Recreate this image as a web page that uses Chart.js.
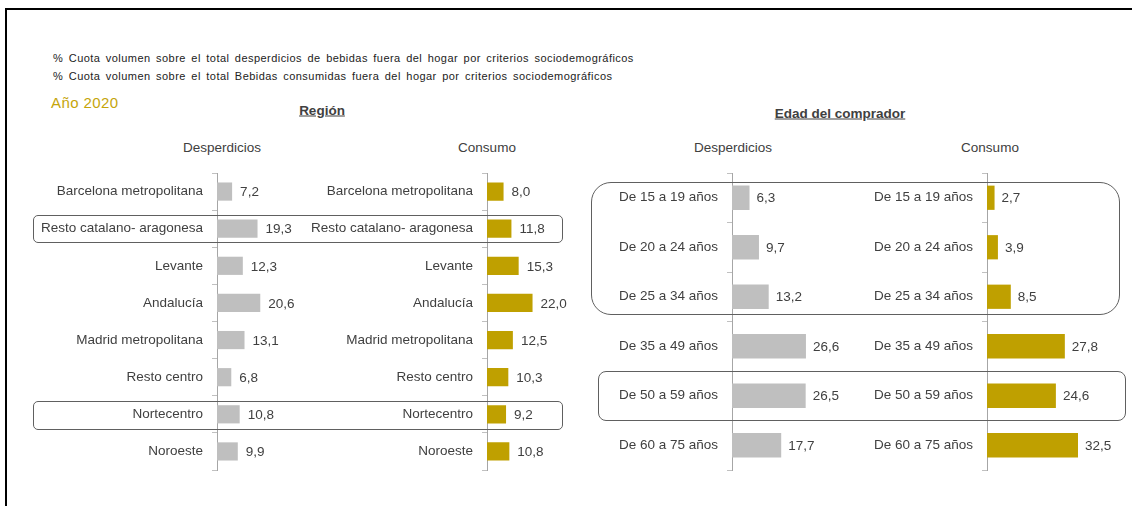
<!DOCTYPE html>
<html>
<head>
<meta charset="utf-8">
<script src="https://cdn.jsdelivr.net/npm/chart.js@4.4.1/dist/chart.umd.min.js"></script>
<style>
  html, body { margin: 0; padding: 0; background: #fff; }
  body { width: 1132px; height: 506px; position: relative; overflow: hidden; font-family: 'Liberation Sans', Arial, sans-serif; color: #404040; }
  .frame { position: absolute; left: 5px; top: 7.5px; width: 1140px; height: 520px; border-top: 2px solid #000; border-left: 2px solid #000; }
  .t { position: absolute; white-space: nowrap; }
  .c { transform: translate(-50%, -50%); }
  .hdr { font-size: 11px; letter-spacing: 0.45px; word-spacing: 2px; color: #222; transform: translateY(-50%); }
  .year { font-size: 15px; color: #C5A50A; transform: translateY(-50%); letter-spacing: 0.4px; }
  .sec { font-size: 13.5px; font-weight: bold; text-decoration: underline; color: #404040; }
  .sub { font-size: 13.5px; color: #404040; }
  .box { position: absolute; border: 1.5px solid #606060; box-sizing: border-box; }
  canvas { position: absolute; }
</style>
</head>
<body>
<div class="frame"></div>
<div class="t hdr" style="left:53px; top:58px;">% Cuota volumen sobre el total desperdicios de bebidas fuera del hogar por criterios sociodemográficos</div>
<div class="t hdr" style="left:53px; top:76px;">% Cuota volumen sobre el total Bebidas consumidas fuera del hogar por criterios sociodemográficos</div>
<div class="t year" style="left:51px; top:102px;">Año 2020</div>
<div class="t sec c" style="left:322px; top:110px;">Región</div>
<div class="t sec c" style="left:840px; top:113px;">Edad del comprador</div>
<div class="t sub c" style="left:222px; top:147px;">Desperdicios</div>
<div class="t sub c" style="left:487px; top:147px;">Consumo</div>
<div class="t sub c" style="left:733px; top:147px;">Desperdicios</div>
<div class="t sub c" style="left:990px; top:147px;">Consumo</div>

<canvas id="cA"></canvas>
<canvas id="cB"></canvas>
<canvas id="cC"></canvas>
<canvas id="cD"></canvas>

<div class="box" style="left:33px; top:215px; width:530px; height:28px; border-radius:5px;"></div>
<div class="box" style="left:33px; top:401px; width:530px; height:29px; border-radius:5px;"></div>
<div class="box" style="left:591px; top:182px; width:529px; height:133px; border-radius:20px;"></div>
<div class="box" style="left:598px; top:371px; width:528px; height:50px; border-radius:8px;"></div>

<script>
// ---- Data ----
const regionCategories = ['Barcelona metropolitana', 'Resto catalano- aragonesa', 'Levante', 'Andalucía', 'Madrid metropolitana', 'Resto centro', 'Nortecentro', 'Noroeste'];
const regionDesperdicios = [7.2, 19.3, 12.3, 20.6, 13.1, 6.8, 10.8, 9.9];
const regionConsumo = [8.0, 11.8, 15.3, 22.0, 12.5, 10.3, 9.2, 10.8];

const edadCategories = ['De 15 a 19 años', 'De 20 a 24 años', 'De 25 a 34 años', 'De 35 a 49 años', 'De 50 a 59 años', 'De 60 a 75 años'];
const edadDesperdicios = [6.3, 9.7, 13.2, 26.6, 26.5, 17.7];
const edadConsumo = [2.7, 3.9, 8.5, 27.8, 24.6, 32.5];

// ---- Styles ----
const GRAY = '#BFBFBF';
const GOLD = '#BFA000';
const FONT = "'Liberation Sans', Arial, sans-serif";
const TEXT = '#404040';

Chart.defaults.font.family = FONT;
Chart.defaults.font.size = 13.5;
Chart.defaults.color = TEXT;

const valueLabels = {
  id: 'valueLabels',
  afterDatasetsDraw(chart, args, opts) {
    const ctx = chart.ctx;
    ctx.save();
    ctx.font = '13.5px ' + FONT;
    ctx.fillStyle = TEXT;
    ctx.textAlign = 'left';
    ctx.textBaseline = 'middle';
    const meta = chart.getDatasetMeta(0);
    const data = chart.data.datasets[0].data;
    meta.data.forEach((bar, i) => {
      const txt = data[i].toFixed(1).replace('.', ',');
      ctx.fillText(txt, bar.x + (opts.gap || 8), bar.y + 1);
    });
    ctx.restore();
  }
};

function makePanel(id, left, axisX, ppu, width, cats, values, color, gap) {
  const top = 163, height = 317, xMax = 40;
  const yWidth = axisX - left;
  const padRight = width - yWidth - xMax * ppu;
  const cv = document.getElementById(id);
  cv.width = width; cv.height = height;
  cv.style.left = left + 'px'; cv.style.top = top + 'px';
  cv.style.width = width + 'px'; cv.style.height = height + 'px';
  new Chart(cv, {
    type: 'bar',
    data: {
      labels: cats,
      datasets: [{ data: values, backgroundColor: color, borderWidth: 0, barPercentage: 0.49, categoryPercentage: 1 }]
    },
    options: {
      indexAxis: 'y',
      responsive: false,
      animation: false,
      devicePixelRatio: 1,
      layout: { padding: { left: 0, right: padRight, top: 10, bottom: 10 } },
      plugins: { legend: { display: false }, tooltip: { enabled: false }, valueLabels: { gap: gap } },
      scales: {
        x: { type: 'linear', min: 0, max: xMax, display: false },
        y: {
          position: 'left',
          grid: { drawOnChartArea: false, drawTicks: true, tickLength: 5, color: '#C0C0C0', offset: true },
          border: { display: true, color: '#A6A6A6', width: 1 },
          ticks: { padding: 9, color: TEXT, font: { size: 13.5 } },
          afterFit(scale) { scale.width = yWidth; scale.paddingTop = 0; scale.paddingBottom = 0; }
        }
      }
    },
    plugins: [valueLabels]
  });
}

makePanel('cA', 20, 217, 2.1, 331, regionCategories, regionDesperdicios, GRAY, 8);
makePanel('cB', 290, 487, 2.07, 330, regionCategories, regionConsumo, GOLD, 8);
makePanel('cC', 600, 732, 2.78, 260, edadCategories, edadDesperdicios, GRAY, 7);
makePanel('cD', 860, 987, 2.8, 262, edadCategories, edadConsumo, GOLD, 7);
</script>
</body>
</html>
